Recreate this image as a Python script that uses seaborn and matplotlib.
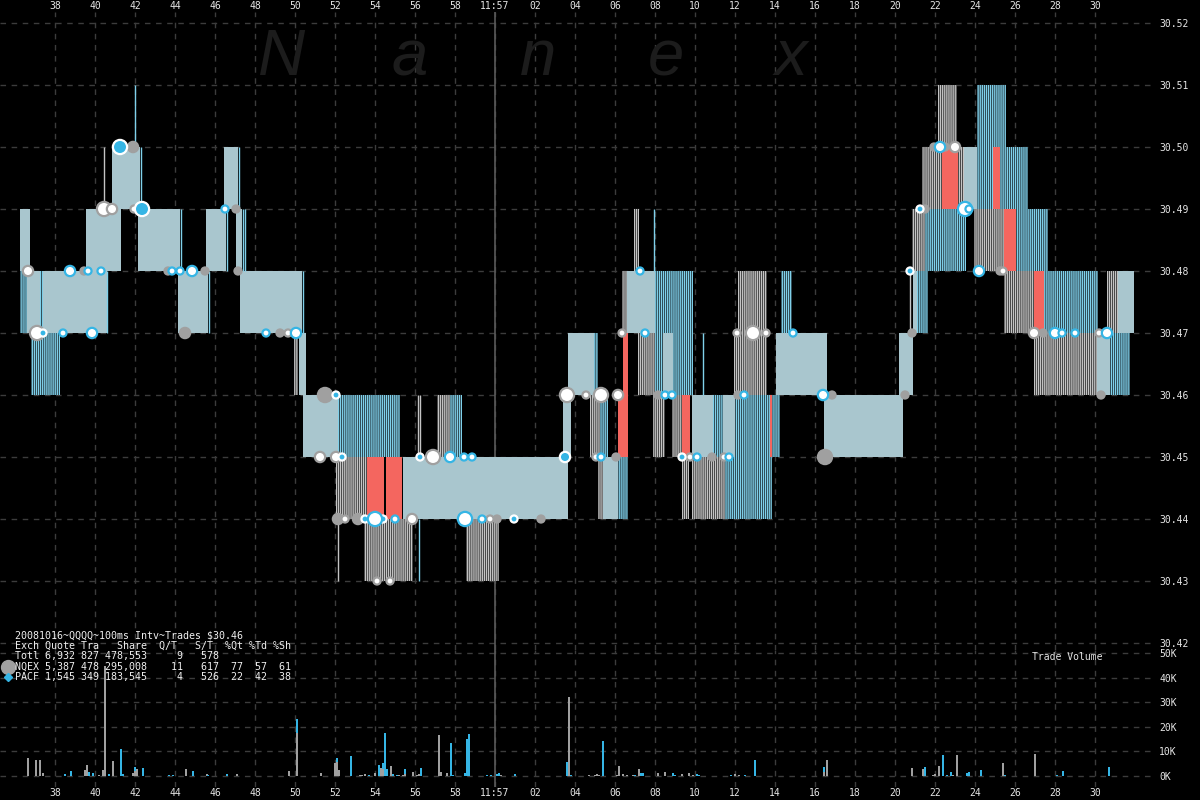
import numpy as np
import pandas as pd
import matplotlib
matplotlib.use("Agg")
import matplotlib.pyplot as plt
import seaborn as sns

# ---------------- data (time = seconds after 11:56:00) ----------------
# quote bands: (start, end, low price, high price)
fill_segs = [
    (36.25, 36.75, 30.48, 30.49), (36.60, 37.25, 30.47, 30.48), (37.40, 40.60, 30.47, 30.48),
    (37.10, 37.40, 30.46, 30.47), (39.55, 41.30, 30.48, 30.49), (40.85, 42.25, 30.49, 30.50),
    (42.15, 44.25, 30.48, 30.49), (44.15, 45.65, 30.47, 30.48), (45.55, 46.55, 30.48, 30.49),
    (46.45, 47.15, 30.49, 30.50), (47.05, 47.35, 30.48, 30.49), (47.25, 50.35, 30.47, 30.48),
    (50.20, 50.55, 30.46, 30.47), (50.40, 52.15, 30.45, 30.46), (55.40, 63.65, 30.44, 30.45),
    (63.40, 63.80, 30.45, 30.46), (63.65, 64.95, 30.46, 30.47), (65.40, 66.15, 30.44, 30.45),
    (66.60, 68.00, 30.47, 30.48), (68.40, 68.90, 30.46, 30.47), (69.85, 70.90, 30.45, 30.46),
    (71.40, 72.00, 30.45, 30.46), (74.05, 76.60, 30.46, 30.47), (76.45, 80.40, 30.45, 30.46),
    (80.20, 80.90, 30.46, 30.47), (80.90, 81.10, 30.47, 30.48), (83.45, 84.10, 30.49, 30.50),
    (90.10, 90.75, 30.46, 30.47), (91.15, 91.95, 30.47, 30.48),
]
stripe_segs = [
    (49.95, 50.15, 30.46, 30.47), (52.05, 53.60, 30.44, 30.45), (57.10, 57.75, 30.45, 30.46),
    (53.45, 55.90, 30.43, 30.44), (58.55, 60.20, 30.43, 30.44), (64.75, 65.25, 30.45, 30.46),
    (65.15, 65.40, 30.44, 30.45), (66.35, 66.60, 30.47, 30.48), (66.95, 67.20, 30.48, 30.49),
    (67.15, 68.00, 30.46, 30.47), (67.90, 68.50, 30.45, 30.46), (68.85, 69.35, 30.45, 30.46),
    (69.35, 69.70, 30.44, 30.45), (69.85, 71.50, 30.44, 30.45), (71.95, 73.60, 30.46, 30.47),
    (72.15, 73.60, 30.47, 30.48), (80.85, 81.50, 30.48, 30.49), (81.35, 82.35, 30.49, 30.50),
    (83.15, 83.45, 30.49, 30.50), (82.15, 83.10, 30.50, 30.51), (83.95, 85.45, 30.48, 30.49),
    (85.45, 86.95, 30.47, 30.48), (90.60, 91.15, 30.47, 30.48), (86.95, 90.10, 30.46, 30.47),
]
bstripe_segs = [
    (36.25, 36.60, 30.47, 30.48), (37.25, 37.40, 30.47, 30.48), (36.80, 38.25, 30.46, 30.47),
    (52.15, 55.25, 30.45, 30.46), (57.75, 58.35, 30.45, 30.46), (64.95, 65.15, 30.46, 30.47),
    (65.25, 65.65, 30.45, 30.46), (66.15, 66.65, 30.44, 30.45), (68.00, 69.90, 30.47, 30.48),
    (68.00, 68.40, 30.46, 30.47), (68.90, 69.90, 30.46, 30.47), (70.90, 71.40, 30.45, 30.46),
    (72.00, 73.75, 30.45, 30.46), (73.85, 74.25, 30.45, 30.46), (71.50, 73.85, 30.44, 30.45),
    (74.30, 74.85, 30.47, 30.48), (81.10, 81.65, 30.47, 30.48), (81.50, 83.55, 30.48, 30.49),
    (84.10, 84.90, 30.49, 30.50), (85.25, 86.65, 30.49, 30.50), (84.10, 85.55, 30.50, 30.51),
    (86.05, 87.65, 30.48, 30.49), (87.45, 90.15, 30.47, 30.48), (90.75, 91.75, 30.46, 30.47),
]
red_segs = [
    (53.60, 54.45, 30.44, 30.45), (54.55, 55.35, 30.44, 30.45), (66.40, 66.65, 30.46, 30.47),
    (66.15, 66.65, 30.45, 30.46), (69.35, 69.75, 30.45, 30.46), (73.75, 73.85, 30.45, 30.46),
    (82.35, 83.15, 30.49, 30.50), (84.90, 85.25, 30.49, 30.50), (85.45, 86.05, 30.48, 30.49),
    (86.95, 87.45, 30.47, 30.48),
]
# single quote lines: (time, low, high, exchange)
quote_lines = [
    (40.60, 30.47, 30.48, "P"), (40.45, 30.49, 30.50, "N"), (42.00, 30.50, 30.51, "P"),
    (42.30, 30.49, 30.50, "P"), (44.30, 30.48, 30.49, "P"), (45.70, 30.47, 30.48, "P"),
    (46.60, 30.48, 30.49, "P"), (47.20, 30.49, 30.50, "P"), (47.40, 30.48, 30.49, "P"),
    (47.50, 30.48, 30.49, "P"), (50.40, 30.47, 30.48, "P"), (56.15, 30.45, 30.46, "N"),
    (56.25, 30.45, 30.46, "N"), (52.15, 30.43, 30.44, "N"), (56.20, 30.43, 30.44, "P"),
    (67.95, 30.48, 30.49, "P"), (70.40, 30.46, 30.47, "P"), (80.75, 30.47, 30.48, "N"),
]

# trades: time, price, kind, size class
trade_t = [36.65, 37.1, 37.4, 38.4, 38.75, 39.45, 39.65, 39.85, 40.3, 40.45, 40.85, 41.25, 41.9,
           41.95, 42.35, 43.65, 43.85, 44.25, 44.5, 44.85, 45.5, 46.5, 47.05, 47.15, 48.55, 49.25,
           49.65, 50.05, 51.25, 51.5, 52.05, 52.05, 52.35, 52.15, 52.5, 53.15, 53.5, 54.0, 54.4,
           55.0, 55.85, 54.1, 54.75, 56.25, 56.9, 57.75, 58.45, 58.85, 58.5, 59.35, 59.75, 60.1,
           60.95, 62.3, 63.6, 63.5, 64.55, 65.3, 66.15, 65.05, 65.3, 66.05, 66.35, 67.25, 67.5,
           68.15, 68.5, 68.85, 69.35, 69.75, 70.1, 70.85, 71.45, 71.7, 72.15, 72.45, 72.1, 72.9,
           73.55, 74.9, 76.4, 76.85, 76.5, 80.5, 80.75, 80.85, 81.25, 81.5, 81.95, 82.25, 82.5,
           83.0, 83.5, 83.7, 84.2, 85.25, 85.4, 86.95, 87.4, 88.0, 88.35, 89.0, 90.2, 90.6, 90.3]
trade_p = [30.48, 30.47, 30.47, 30.47, 30.48, 30.48, 30.48, 30.47, 30.48, 30.49, 30.49, 30.50, 30.50,
           30.49, 30.49, 30.48, 30.48, 30.48, 30.47, 30.48, 30.48, 30.49, 30.49, 30.48, 30.47, 30.47,
           30.47, 30.47, 30.45, 30.46, 30.46, 30.45, 30.45, 30.44, 30.44, 30.44, 30.44, 30.44, 30.44,
           30.44, 30.44, 30.43, 30.43, 30.45, 30.45, 30.45, 30.45, 30.45, 30.44, 30.44, 30.44, 30.44,
           30.44, 30.44, 30.46, 30.45, 30.46, 30.46, 30.46, 30.45, 30.45, 30.45, 30.47, 30.48, 30.47,
           30.46, 30.46, 30.46, 30.45, 30.45, 30.45, 30.45, 30.45, 30.45, 30.46, 30.46, 30.47, 30.47,
           30.47, 30.47, 30.46, 30.46, 30.45, 30.46, 30.48, 30.47, 30.49, 30.49, 30.50, 30.50, 30.50,
           30.50, 30.49, 30.49, 30.48, 30.48, 30.48, 30.47, 30.47, 30.47, 30.47, 30.47, 30.47, 30.47,
           30.46]
trade_kind = ["nw", "nw", "pc", "pw", "pw", "ng", "pw", "pw", "pw", "nw", "nw", "pc", "ng",
              "nw", "pc", "ng", "pw", "pw", "ng", "pw", "ng", "pw", "ng", "ng", "pw", "ng",
              "nw", "pw", "nw", "ng", "pc", "nw", "pc", "ng", "nw", "ng", "pc", "pw", "pc",
              "pw", "nw", "nw", "nw", "pc", "nw", "pw", "pw", "pw", "pw", "pw", "nw", "ng",
              "pc", "ng", "nw", "pc", "nw", "nw", "nw", "nw", "pw", "ng", "nw", "pw", "pw",
              "ng", "pw", "pw", "pc", "nw", "pw", "ng", "nw", "pw", "ng", "pw", "nw", "nw",
              "nw", "pw", "pw", "ng", "ng", "ng", "pc", "ng", "pc", "ng", "ng", "pw", "ng",
              "nw", "pw", "pw", "pw", "ng", "nw", "nw", "ng", "pw", "pw", "pw", "nw", "pw", "ng"]
trade_size = [2, 3, 1, 1, 2, 1, 1, 2, 1, 3, 2, 3, 2,
              1, 3, 1, 1, 1, 2, 2, 1, 1, 1, 1, 1, 1,
              1, 2, 2, 3, 1, 2, 1, 2, 1, 2, 1, 3, 1,
              1, 2, 1, 1, 1, 3, 2, 1, 1, 3, 1, 1, 1,
              1, 1, 3, 2, 1, 3, 2, 1, 1, 1, 1, 1, 1,
              1, 1, 1, 1, 1, 1, 1, 1, 1, 1, 1, 1, 3,
              1, 1, 2, 1, 3, 1, 1, 1, 1, 1, 1, 2, 1,
              2, 3, 1, 2, 1, 1, 2, 1, 2, 1, 1, 1, 2, 1]

# trade volume (thousand shares)
nqex_vol_t = [36.65, 37.05, 37.25, 37.4, 39.5, 39.6, 40.2, 40.4, 40.5, 40.9, 41.9, 42.0, 42.1, 44.15,
              44.55, 45.6, 47.1, 48.6, 49.25, 49.7, 50.1, 51.3, 52.0, 52.1, 52.2, 53.25, 53.35, 53.5,
              54.0, 54.3, 54.4, 54.8, 55.2, 55.4, 55.5, 55.9, 56.1, 56.2, 57.2, 57.3, 57.6, 60.3,
              62.4, 63.7, 64.0, 64.7, 65.0, 65.1, 65.2, 66.1, 66.2, 66.4, 66.6, 66.9, 67.2, 68.15,
              68.5, 69.35, 69.7, 69.9, 70.9, 71.5, 72.0, 72.2, 73.6, 74.15, 76.45, 76.6, 76.9, 80.5,
              80.6, 80.85, 81.4, 81.9, 82.0, 82.2, 82.9, 83.1, 84.0, 85.4, 87.0, 87.5, 90.25, 90.4]
nqex_vol_k = [7.2, 6.4, 6.4, 1.4, 2.4, 4.3, 0.3, 2.4, 44.6, 5.9, 1.1, 2.2, 2.7, 0.2,
              2.7, 0.7, 0.7, 0.2, 0.2, 1.9, 17.6, 1.1, 5.1, 5.5, 2.4, 0.3, 0.3, 0.7,
              1.4, 3.4, 2.9, 4.0, 0.3, 0.5, 1.0, 1.6, 0.5, 0.9, 16.5, 1.6, 1.2, 0.3,
              0.1, 32.0, 0.2, 0.5, 0.3, 0.9, 0.5, 0.5, 4.0, 0.9, 0.3, 0.5, 2.9, 1.3,
              1.6, 0.9, 1.2, 0.5, 0.1, 0.1, 0.9, 0.3, 0.1, 0.1, 1.6, 6.5, 0.1, 0.1,
              0.1, 3.2, 2.7, 0.3, 0.8, 4.0, 0.5, 8.5, 0.1, 5.3, 8.9, 0.2, 0.2, 0.2]
pacf_vol_t = [38.5, 38.8, 39.7, 39.9, 40.7, 41.3, 41.4, 42.0, 42.4, 43.7, 43.9, 44.4, 44.9, 45.65,
              46.6, 50.1, 50.2, 52.1, 52.8, 53.7, 54.2, 54.4, 54.5, 54.6, 54.9, 55.1, 55.5, 56.3,
              57.8, 57.9, 58.5, 58.6, 58.7, 58.8, 58.9, 59.6, 59.8, 60.1, 60.2, 61.0, 63.6, 63.8,
              65.4, 67.0, 67.3, 67.4, 68.9, 69.0, 70.1, 70.2, 71.8, 72.5, 73.0, 75.0, 76.45, 81.5,
              82.4, 82.6, 82.8, 83.6, 83.7, 84.1, 84.3, 85.5, 88.1, 88.4, 89.1, 90.7]
pacf_vol_k = [0.7, 1.9, 1.6, 1.4, 0.7, 10.8, 0.7, 1.3, 3.1, 0.3, 0.5, 0.2, 1.9, 0.3,
              0.7, 5.4, 0.2, 1.9, 8.1, 0.3, 4.3, 2.4, 17.3, 2.7, 0.9, 0.3, 2.0, 3.3,
              13.6, 0.5, 1.2, 14.9, 16.9, 0.2, 0.2, 0.5, 0.5, 0.9, 1.2, 0.9, 5.6, 0.5,
              14.1, 0.3, 1.2, 1.2, 1.2, 0.3, 0.9, 0.3, 0.5, 0.3, 6.5, 0.1, 2.0, 3.6,
              8.5, 0.5, 1.6, 1.2, 1.6, 0.1, 2.5, 0.5, 0.5, 2.1, 0.1, 3.6]

tick_secs = list(range(38, 92, 2))
tick_labels = [str(t) if t < 60 else ("11:57" if t == 60 else f"{t-60:02d}") for t in tick_secs]
price_ticks = [30.42, 30.43, 30.44, 30.45, 30.46, 30.47, 30.48, 30.49, 30.50, 30.51, 30.52]
vol_ticks = [0, 10, 20, 30, 40, 50]
vol_labels = ["0K", "10K", "20K", "30K", "40K", "50K"]

info_lines = [
    "20081016~QQQQ~100ms Intv~Trades $30.46",
    "Exch Quote Tra   Share  Q/T   S/T  %Qt %Td %Sh",
    "Totl 6,932 827 478,553     9   578",
    "NQEX 5,387 478 295,008    11   617  77  57  61",
    "PACF 1,545 349 183,545     4   526  22  42  38",
]

# ---------------- style ----------------
sns.set_theme(style="dark", rc={
    "figure.facecolor": "black", "axes.facecolor": "black", "savefig.facecolor": "black",
    "axes.edgecolor": "black", "text.color": "#e6e6e6",
    "xtick.color": "#e6e6e6", "ytick.color": "#e6e6e6",
    "hatch.linewidth": 1.0,
})
plt.rcParams["font.family"] = ["DejaVu Sans Mono", "DejaVu Sans"]

FILL = "#a9c6ce"
GRAYL = "#c4c4c4"
CYAN = "#7fd0ea"
RED = "#f4665f"
VGRAY = "#a0a0a0"
VCYAN = "#35b5e5"
GRID = "#3c3c3c"

W, H = 1200, 800
fig = plt.figure(figsize=(12, 8), dpi=100)
ax = fig.add_axes([0, 1 - 650 / H, 1155 / W, 638 / H])
axv = fig.add_axes([0, 1 - 787 / H, 1155 / W, 137 / H], sharex=ax)

x0 = 35.25
x1 = x0 + 1155 / 20
ax.set_xlim(x0, x1)
ax.set_ylim(30.42 - 7 / 6200, 30.52 + 11 / 6200)
axv.set_ylim(-11 / 2.46, 50 + 3 / 2.46)

# watermark
for letter, px in zip("Nanex", [258, 392, 520, 648, 775]):
    fig.text(px / W, 1 - 75 / H, letter, fontsize=47, style="italic", color="#1c1c1c",
             family="Liberation Sans", ha="left", va="baseline", zorder=0)

for a in (ax, axv):
    a.set_xticks(tick_secs)
    a.grid(True, which="major", color=GRID, linestyle=(0, (4, 4)), linewidth=1)
    a.tick_params(length=0, labelsize=7)
    for sp in a.spines.values():
        sp.set_visible(False)
    a.set_axisbelow(True)
    a.axvline(60, color="#5a5a5a", lw=1.2, zorder=1)

ax.set_yticks(price_ticks)
ax.set_yticklabels([f"{p:.2f}" for p in price_ticks])
ax.yaxis.tick_right()
ax.tick_params(axis="y", pad=3)
ax.xaxis.tick_top()
ax.set_xticklabels(tick_labels)
ax.tick_params(axis="x", pad=1)

axv.set_yticks(vol_ticks)
axv.set_yticklabels(vol_labels)
axv.yaxis.tick_right()
axv.tick_params(axis="y", pad=3)
axv.set_xticklabels(tick_labels)
axv.tick_params(axis="x", pad=1, labelbottom=True)


def draw_segs(segs, **kw):
    s = np.array(segs)
    ax.bar(s[:, 0], s[:, 3] - s[:, 2], width=s[:, 1] - s[:, 0], bottom=s[:, 2],
           align="edge", zorder=2, **kw)


draw_segs(fill_segs, color=FILL, linewidth=0)
draw_segs(stripe_segs, facecolor="#151515", edgecolor=GRAYL, hatch="|" * 8, linewidth=0)
draw_segs(bstripe_segs, facecolor="#101518", edgecolor=CYAN, hatch="|" * 8, linewidth=0)
draw_segs(red_segs, color=RED, linewidth=0)
for t, lo, hi, ex in quote_lines:
    ax.vlines(t, lo, hi, color=(CYAN if ex == "P" else GRAYL), lw=1, zorder=2)

# trades
trades = pd.DataFrame({"t": trade_t, "p": trade_p, "kind": trade_kind, "size": trade_size})
sizes = {1: 26, 2: 55, 3: 105}
styles = {"ng": (VGRAY, VGRAY), "nw": ("white", VGRAY), "pc": (VCYAN, "white"), "pw": ("white", VCYAN)}
for kind, (fc, ec) in styles.items():
    d = trades[trades["kind"] == kind]
    sns.scatterplot(data=d, x="t", y="p", size="size", sizes=sizes, size_norm=(1, 3),
                    color=fc, edgecolor=ec, linewidth=1.6, ax=ax, legend=False, zorder=4)
ax.set_xlabel("")
ax.set_ylabel("")

# volume
nq = dict(zip(nqex_vol_t, nqex_vol_k))
axv.bar(nqex_vol_t, nqex_vol_k, width=0.1, color=VGRAY, linewidth=0, zorder=2)
axv.bar(pacf_vol_t, pacf_vol_k, width=0.1, bottom=[nq.get(t, 0) for t in pacf_vol_t],
        color=VCYAN, linewidth=0, zorder=2)
axv.set_xlabel("")
axv.set_ylabel("")
axv.text(1032 / 20 + x0, 48.4, "Trade Volume", fontsize=7, color="#e6e6e6", ha="left", va="center")

for i, line in enumerate(info_lines):
    fig.text(15 / W, 1 - (635 + i * 10.5) / H, line, fontsize=7.2, color="#f0f0f0",
             ha="left", va="center", family="DejaVu Sans Mono")
fig.add_artist(plt.Line2D([8 / W], [1 - 667 / H], marker="o", markersize=10, color="#a0a0a0",
                          transform=fig.transFigure))
fig.add_artist(plt.Line2D([8 / W], [1 - 677 / H], marker="D", markersize=4, color=VCYAN,
                          transform=fig.transFigure))

fig.savefig("out.png", dpi=100, facecolor="black")
